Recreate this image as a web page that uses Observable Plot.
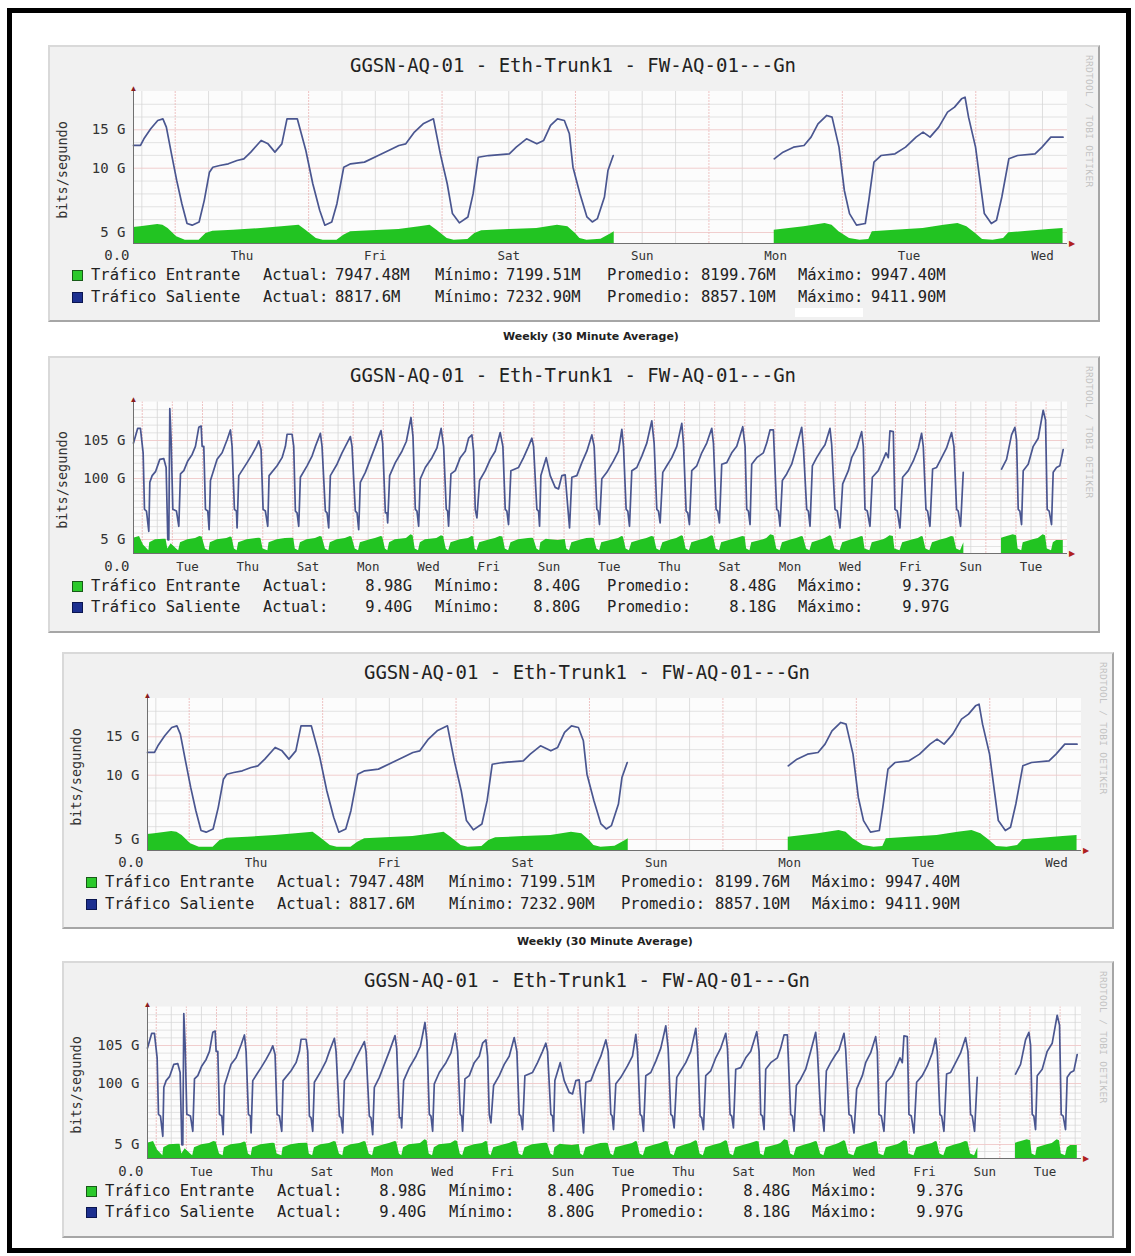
<!DOCTYPE html>
<html>
<head>
<meta charset="utf-8">
<script src="https://cdn.jsdelivr.net/npm/d3@7"></script>
<script src="https://cdn.jsdelivr.net/npm/@observablehq/plot@0.6"></script>
<style>
  body { margin: 0; background: #fff; width: 1135px; height: 1256px; position: relative; overflow: hidden; font-family: "DejaVu Sans Mono", monospace; }
  .outer { position: absolute; left: 7px; top: 8px; width: 1124px; height: 1245px; border: 5px solid #000; box-sizing: border-box; }
  .panel { position: absolute; width: 1052px; height: 277px; }
  .frame { position: absolute; left: 0; top: 0; width: 1052px; height: 277px; box-sizing: border-box; background: #f1f1f1;
           border-top: 2px solid #d9d9d9; border-left: 2px solid #d9d9d9; border-right: 2px solid #a6a6a6; border-bottom: 2px solid #a6a6a6; }
  .panel svg { position: absolute; left: 0; top: 0; }
  .abs { position: absolute; white-space: nowrap; }
</style>
</head>
<body>
<div class="outer"></div>
<script>
// ---------- data ----------
const chartTitle = "GGSN-AQ-01 - Eth-Trunk1 - FW-AQ-01---Gn";
const yAxisTitle = "bits/segundo";
const captionText = "Weekly (30 Minute Average)";
const rrdLabel = "RRDTOOL / TOBI OETIKER";
const seriesNames = ["Tráfico Entrante", "Tráfico Saliente"];
const statNames = ["Actual:", "Mínimo:", "Promedio:", "Máximo:"];

// weekly chart: hours since start (Wed 16:30), values in G (as read against the printed axis)
const weekDayLabels = ["Thu", "Fri", "Sat", "Sun", "Mon", "Tue", "Wed"];
const weekTickValues = [5, 10, 15];
const weekTickLabels = ["5 G", "10 G", "15 G"];
const weekStats = [["7947.48M", "7199.51M", "8199.76M", "9947.40M"],
                   ["8817.6M", "7232.90M", "8857.10M", "9411.90M"]];
const weekOut = [
  [0,12.96],[1.26,12.96],[1.87,13.83],[3.1,15.13],[4.36,16.22],[5.29,16.43],[5.91,15.35],[6.83,11.87],[7.77,9.05],[8.7,7.24],
  [9.63,5.70],[10.55,5.57],[11.8,5.82],[12.73,7.50],[13.66,9.69],[14.27,10.13],[15.51,10.35],[17.06,10.57],[18.62,11.0],[19.85,11.22],
  [21.1,12.09],[22.96,13.61],[24.2,13.17],[25.44,12.09],[26.68,13.17],[27.61,16.43],[29.46,16.43],[31.0,12.3],[32.25,8.79],[33.49,6.73],
  [34.42,5.57],[35.66,5.82],[36.59,7.24],[37.82,10.13],[39.06,10.57],[41.54,10.79],[44.02,11.65],[45.89,12.3],[47.74,12.96],[48.98,13.17],
  [50.53,14.7],[52.1,15.78],[53.95,16.43],[55.19,11.87],[56.43,8.79],[57.37,6.47],[58.61,5.75],[60.15,6.21],[61.09,8.02],[62.01,11.43],
  [63.87,11.65],[67.6,11.87],[68.84,12.74],[70.69,13.83],[72.55,13.17],[73.78,13.61],[75.02,15.57],[76.26,16.43],[77.5,16.22],[78.4,14.48],
  [79.05,10.13],[80.3,8.02],[81.56,6.21],[82.52,5.82],[83.45,6.08],[84.71,7.76],[85.34,9.82],[86.29,11.65],
  [100,null],
  [115.25,11.22],[116.83,12.09],[118.72,12.74],[120.61,12.96],[121.87,14.04],[123.12,15.78],[124.7,16.87],[125.65,16.65],[126.9,12.74],[127.86,8.27],
  [128.79,6.47],[130.05,5.57],[131.63,5.70],[132.26,7.50],[133.19,10.79],[134.45,11.65],[136.98,11.87],[138.87,12.74],[140.76,14.04],[142.02,14.7],
  [143.28,14.04],[144.84,15.35],[146.42,17.3],[147.68,17.96],[148.94,19.04],[149.57,19.26],[150.2,16.65],[151.46,12.74],[152.41,8.53],[153.04,6.47],
  [154.3,5.70],[155.23,5.95],[156.19,7.76],[157.45,11.22],[159.01,11.65],[162.16,11.87],[163.42,12.74],[165.0,14.04],[167.2,14.04]
];
const weekIn = [
  [0,5.39],[1.26,5.44],[4.36,5.62],[5.29,5.57],[6.22,5.31],[7.77,3.03],[9.32,1.52],[11.8,1.52],[13.04,4.55],[14.27,5.10],
  [17.99,5.18],[22.96,5.31],[26.68,5.44],[29.78,5.57],[31.0,5.18],[32.88,2.27],[34.12,1.52],[36.59,1.52],[37.82,3.79],[39.06,5.05],
  [42.79,5.13],[47.74,5.23],[51.47,5.44],[53.34,5.57],[54.57,5.18],[56.43,2.27],[57.67,1.52],[60.15,1.82],[61.39,4.55],[62.63,5.13],
  [67.6,5.23],[72.55,5.31],[76.26,5.57],[78.13,5.44],[79.5,4.5],[80.3,2.27],[81.56,1.52],[84.08,1.97],[85.97,4.55],[86.47,5.05],
  [100,null],
  [115.25,5.18],[120.61,5.44],[124.39,5.70],[125.65,5.57],[126.9,5.05],[128.79,2.27],[130.68,1.52],[132.26,1.82],[132.89,5.05],[136.98,5.18],
  [142.02,5.31],[145.8,5.57],[148.3,5.70],[149.9,5.44],[151.46,4.55],[152.72,1.82],[154.6,1.52],[156.5,2.27],[157.45,4.85],[160.9,5.10],
  [164.7,5.23],[167.2,5.31]
];

// monthly chart: days since start, values in G (as read against the printed axis)
const monthDayLabels = ["Tue","Thu","Sat","Mon","Wed","Fri","Sun","Tue","Thu","Sat","Mon","Wed","Fri","Sun","Tue"];
const monthTickValues = [5, 100, 105];
const monthTickLabels = ["5 G", "100 G", "105 G"];
const monthStats = [["8.98G", "8.40G", "8.48G", "9.37G"],
                    ["9.40G", "8.80G", "8.18G", "9.97G"]];
const monthOut = [
  [0,104.66],[0.14,106.58],[0.23,106.58],[0.32,103.38],[0.365,52.0],[0.431,49.3],[0.508,17.7],
  [0.542,94.1],[0.619,100.38],[0.73,100.9],[0.873,102.52],[1.006,102.61],[1.083,101.45],[1.139,4.9],[1.172,4.9],[1.205,109.14],[1.249,105.09],[1.305,52.0],[1.426,49.3],[1.504,25.6],
  [1.559,100.6],[1.67,101.03],[1.802,102.31],[1.946,103.17],[2.056,104.23],[2.167,106.71],[2.245,106.88],[2.278,104.23],[2.333,104.23],[2.388,52.0],[2.465,49.3],[2.51,20.3],
  [2.554,96.83],[2.775,102.52],[2.941,103.38],[3.107,105.09],[3.217,106.37],[3.272,104.23],[3.35,52.0],[3.416,49.3],[3.438,22.9],
  [3.494,100.38],[3.77,102.09],[3.936,103.17],[4.08,104.23],[4.157,104.96],[4.234,103.81],[4.301,52.0],[4.378,49.3],[4.456,25.6],
  [4.5,100.38],[4.765,101.67],[4.931,102.74],[5.042,104.23],[5.097,105.81],[5.263,105.81],[5.318,104.23],[5.373,49.3],[5.429,46.6],[5.484,25.6],
  [5.539,100.17],[5.76,101.67],[5.926,102.95],[6.037,104.23],[6.203,105.94],[6.258,104.23],[6.368,49.3],[6.424,46.6],[6.479,22.9],
  [6.534,100.38],[6.755,101.88],[6.921,103.38],[7.032,104.23],[7.198,105.51],[7.253,104.23],[7.363,49.3],[7.419,46.6],[7.474,20.3],
  [7.529,94.1],[7.695,100.81],[7.861,102.52],[8.027,104.23],[8.215,106.28],[8.27,104.66],[8.359,46.6],[8.414,46.6],[8.436,30.8],
  [8.502,100.38],[8.69,102.09],[8.911,103.59],[9.055,104.87],[9.21,107.99],[9.276,105.51],[9.354,52.0],[9.409,49.3],[9.464,25.6],
  [9.519,99.5],[9.685,101.45],[9.906,102.74],[10.072,104.02],[10.21,106.58],[10.293,104.23],[10.381,52.0],[10.425,49.3],[10.458,25.6],
  [10.536,100.6],[10.68,101.03],[10.845,102.74],[11.011,103.59],[11.122,105.3],[11.232,105.73],[11.288,103.59],[11.343,52.0],[11.398,38.7],
  [11.487,96.83],[11.675,101.03],[11.84,102.52],[12.006,103.59],[12.172,106.03],[12.26,104.23],[12.338,52.0],[12.393,49.3],[12.448,28.3],
  [12.526,101.03],[12.78,101.45],[12.946,102.74],[13.112,104.23],[13.222,105.3],[13.278,104.23],[13.388,52.0],[13.444,49.3],[13.477,25.6],
  [13.521,100.38],[13.698,102.74],[13.831,100.38],[13.996,86.2],[14.107,83.7],[14.217,100.38],[14.328,100.47],[14.383,73.1],[14.472,22.9],
  [14.549,100.17],[14.715,100.38],[14.881,102.09],[15.047,103.59],[15.213,105.73],[15.29,104.23],[15.378,52.0],[15.423,49.3],[15.467,28.3],
  [15.544,99.5],[15.71,100.81],[15.931,102.31],[16.097,103.59],[16.208,106.45],[16.263,104.23],[16.351,52.0],[16.407,49.3],[16.462,25.6],
  [16.539,101.03],[16.705,101.45],[16.871,102.95],[17.037,104.66],[17.203,107.56],[17.28,104.66],[17.369,52.0],[17.424,49.3],[17.479,30.8],
  [17.567,100.81],[17.7,101.67],[17.866,102.74],[18.032,104.23],[18.198,107.22],[18.253,104.66],[18.342,49.3],[18.397,46.6],[18.452,28.3],
  [18.529,101.03],[18.695,101.67],[18.861,103.38],[19.027,104.66],[19.193,106.58],[19.248,104.66],[19.337,52.0],[19.392,49.3],[19.447,30.8],
  [19.524,101.88],[19.69,102.09],[19.856,103.38],[20.022,104.23],[20.221,106.79],[20.298,104.23],[20.353,52.0],[20.409,49.3],[20.464,28.3],
  [20.519,101.88],[20.685,102.74],[20.906,103.38],[21.017,104.66],[21.127,106.37],[21.238,106.37],[21.26,104.23],[21.348,52.0],[21.404,49.3],[21.459,25.6],
  [21.536,96.83],[21.68,100.6],[21.846,101.88],[22.012,104.23],[22.178,106.71],[22.233,104.23],[22.344,52.0],[22.399,49.3],[22.454,25.6],
  [22.532,101.67],[22.675,102.74],[22.841,103.81],[22.952,104.45],[23.117,106.58],[23.173,104.45],[23.283,52.0],[23.361,49.3],[23.449,22.9],
  [23.538,91.6],[23.726,101.03],[23.836,102.74],[24.002,104.02],[24.168,106.15],[24.223,104.23],[24.278,52.0],[24.356,49.3],[24.444,25.6],
  [24.522,100.17],[24.721,101.03],[24.886,102.52],[24.975,103.38],[25.052,102.74],[25.107,106.24],[25.218,106.15],[25.273,52.0],[25.351,49.3],[25.439,22.9],
  [25.528,100.17],[25.716,101.03],[25.882,102.31],[26.047,104.02],[26.158,105.94],[26.213,104.23],[26.302,52.0],[26.357,49.3],[26.434,25.6],
  [26.523,101.24],[26.656,101.45],[26.822,102.74],[26.987,104.02],[27.153,106.03],[27.231,104.23],[27.319,52.0],[27.374,49.3],[27.451,25.6],[27.54,100.81],
  [27.6,null],
  [28.811,101.24],[28.977,102.52],[29.143,105.73],[29.254,106.71],[29.309,105.09],[29.364,52.0],[29.419,49.3],[29.475,28.3],
  [29.53,101.03],[29.696,101.88],[29.862,104.23],[30.028,105.3],[30.193,108.93],[30.271,107.65],[30.326,52.0],[30.392,49.3],[30.47,28.3],
  [30.525,100.81],[30.636,101.45],[30.746,101.67],[30.857,103.81]
];
const monthIn = [
  [0,7.1],[0.2,9.75],[0.33,3.0],[0.51,1.0],
  [0.54,3.8],[0.73,4.9],[1.0,5.5],[1.08,5.2],[1.14,1.6],[1.25,3.5],[1.43,1.6],[1.5,1.0],
  [1.56,3.8],[1.8,4.9],[2.06,6.5],[2.2,9.75],[2.28,8.7],[2.39,1.6],[2.51,1.0],
  [2.55,3.8],[2.78,4.9],[3.1,6.5],[3.22,8.7],[3.27,8.0],[3.35,1.6],[3.44,1.0],
  [3.49,3.8],[3.77,4.9],[4.08,6.5],[4.16,7.1],[4.23,6.5],[4.3,1.6],[4.46,1.0],
  [4.5,3.8],[4.77,4.9],[5.04,6.5],[5.26,7.1],[5.32,6.5],[5.37,1.6],[5.48,1.0],
  [5.54,3.8],[5.76,4.9],[6.04,6.5],[6.2,9.75],[6.26,8.7],[6.37,1.6],[6.48,1.0],
  [6.53,3.8],[6.76,4.9],[7.03,6.5],[7.2,9.75],[7.25,8.7],[7.36,1.6],[7.47,1.0],
  [7.53,3.8],[7.86,4.9],[8.03,6.5],[8.22,9.75],[8.27,8.7],[8.36,1.6],[8.44,1.0],
  [8.5,3.8],[8.69,4.9],[9.06,6.5],[9.21,12.4],[9.28,10.8],[9.35,1.6],[9.46,1.0],
  [9.52,3.8],[9.69,4.9],[10.07,6.5],[10.22,10.8],[10.29,9.75],[10.38,1.6],[10.46,1.0],
  [10.54,3.8],[10.85,4.9],[11.12,6.5],[11.23,9.75],[11.29,8.7],[11.34,1.6],[11.4,1.0],
  [11.49,3.8],[11.84,4.9],[12.01,6.5],[12.17,9.75],[12.26,8.7],[12.34,1.6],[12.45,1.0],
  [12.53,3.8],[12.78,4.9],[13.11,6.5],[13.22,7.1],[13.28,6.5],[13.39,1.6],[13.48,1.0],
  [13.52,3.8],[13.7,5.5],[13.83,4.9],[14.1,4.6],[14.33,5.0],[14.38,1.6],[14.47,1.0],
  [14.55,3.8],[14.88,4.9],[15.05,6.5],[15.21,7.1],[15.29,6.5],[15.38,1.6],[15.47,1.0],
  [15.54,3.8],[15.93,4.9],[16.1,6.5],[16.21,9.75],[16.26,8.7],[16.35,1.6],[16.46,1.0],
  [16.54,3.8],[16.87,4.9],[17.04,6.5],[17.2,9.75],[17.28,8.7],[17.37,1.6],[17.48,1.0],
  [17.57,3.8],[17.87,4.9],[18.03,6.5],[18.2,10.8],[18.25,9.75],[18.34,1.6],[18.45,1.0],
  [18.53,3.8],[18.86,4.9],[19.03,6.5],[19.19,10.8],[19.25,9.75],[19.34,1.6],[19.45,1.0],
  [19.52,3.8],[19.86,4.9],[20.02,6.5],[20.22,9.75],[20.3,8.7],[20.35,1.6],[20.46,1.0],
  [20.52,3.8],[20.91,4.9],[21.02,6.5],[21.15,12.4],[21.26,10.8],[21.35,1.6],[21.46,1.0],
  [21.54,3.8],[21.85,4.9],[22.01,6.5],[22.18,9.75],[22.23,8.7],[22.34,1.6],[22.45,1.0],
  [22.53,3.8],[22.84,4.9],[22.95,6.5],[23.12,10.8],[23.17,9.75],[23.28,1.6],[23.45,1.0],
  [23.54,3.8],[23.84,4.9],[24.0,6.5],[24.17,9.75],[24.22,8.7],[24.28,1.6],[24.44,1.0],
  [24.52,3.8],[24.89,4.9],[24.98,6.5],[25.11,10.8],[25.22,9.75],[25.27,1.6],[25.44,1.0],
  [25.53,3.8],[25.88,4.9],[26.05,6.5],[26.16,9.75],[26.21,8.7],[26.3,1.6],[26.43,1.0],
  [26.52,3.8],[26.82,4.9],[26.99,6.5],[27.15,9.75],[27.23,8.7],[27.32,1.6],[27.45,1.0],[27.56,3.8],
  [27.6,null],
  [28.81,7.1],[29.0,9.75],[29.2,12.4],[29.31,10.8],[29.36,1.6],[29.48,1.0],
  [29.53,3.8],[29.86,4.9],[30.03,6.5],[30.19,12.4],[30.27,10.8],[30.33,1.6],[30.47,1.0],
  [30.53,3.8],[30.64,4.67],[30.86,4.67]
];

// ---------- drawing ----------
const MONO = "DejaVu Sans Mono, monospace";
const GREEN = "#22c422", BLUE = "#4a5690";

function addDiv(host, txt, css) {
  const d = document.createElement("div");
  d.className = "abs";
  d.textContent = txt;
  Object.assign(d.style, css);
  host.appendChild(d);
  return d;
}

function drawPanel(left, top, cfg) {
  const host = document.createElement("div");
  host.className = "panel";
  host.style.left = left + "px";
  host.style.top = top + "px";
  document.body.appendChild(host);
  const frame = document.createElement("div");
  frame.className = "frame";
  host.appendChild(frame);

  const toRows = a => a.map(([x, v]) => ({x, v: v == null ? NaN : v}));
  const outRows = toRows(cfg.out), inRows = toRows(cfg.inn);
  const yTop = cfg.yDomain[cfg.yDomain.length - 1];
  const xMax = cfg.xMax;
  const tickRows = cfg.tickValues.map((v, i) => ({v, t: cfg.tickLabels[i]}));
  const dayRows = cfg.dayLabels.map((t, i) => ({t, x: cfg.dayStart + cfg.dayStep * i}));

  const svg = Plot.plot({
    width: 1052, height: 277, margin: 0,
    style: {background: "transparent", overflow: "visible"},
    x: {type: "linear", domain: [0, xMax], range: [85, 1019], axis: null},
    y: {type: "linear", domain: cfg.yDomain, range: cfg.yRange, axis: null},
    marks: [
      Plot.rect([0], {x1: () => 0, x2: () => xMax, y1: () => 0, y2: () => yTop, fill: "#fcfcfc"}),
      Plot.ruleY(cfg.gridMinorY, {x1: () => 0, x2: () => xMax, stroke: "#dcdcdc", strokeWidth: 0.8}),
      Plot.ruleX(cfg.gridMinorX, {y1: () => 0, y2: () => yTop, stroke: "#d6d6d6", strokeWidth: 0.8}),
      Plot.ruleY(cfg.tickValues, {x1: () => 0, x2: () => xMax, stroke: "#efc8c8", strokeWidth: 0.9}),
      Plot.ruleX(cfg.gridMajorX, {y1: () => 0, y2: () => yTop, stroke: "#ecbcbc", strokeWidth: 0.9, strokeDasharray: "2,1"}),
      Plot.areaY(inRows, {x: "x", y1: () => 0, y2: "v", fill: GREEN}),
      Plot.line(outRows, {x: "x", y: "v", stroke: BLUE, strokeWidth: 1.7}),
      Plot.ruleX([0], {y1: () => 0, y2: () => yTop, stroke: "#707070"}),
      Plot.ruleY([0], {x1: () => 0, x2: () => xMax, stroke: "#707070"}),
      Plot.text(["▲"], {x: () => 0, y: () => yTop, text: d => d, dy: -3, fill: "#8b1c1c", fontSize: 8}),
      Plot.text(["▶"], {x: () => xMax, y: () => 0, text: d => d, dx: 4, fill: "#b02020", fontSize: 8}),
      Plot.text(tickRows, {x: () => 0, y: "v", text: "t", dx: -8, textAnchor: "end", fontFamily: MONO, fontSize: 14, fill: "#333"}),
      Plot.text(["0.0"], {x: () => 0, y: () => 0, text: d => d, dx: -4, dy: cfg.labelDy, textAnchor: "end", fontFamily: MONO, fontSize: 14, fill: "#333"}),
      Plot.text(dayRows, {x: "x", y: () => 0, text: "t", dy: cfg.labelDy, fontFamily: MONO, fontSize: 12.5, fill: "#333"})
    ]
  });
  host.appendChild(svg);

  addDiv(host, chartTitle, {left: "525px", top: cfg.titleY + "px", transform: "translate(-50%,-50%)",
    fontFamily: MONO, fontSize: "19px", color: "#222"});
  addDiv(host, yAxisTitle, {left: "14px", top: cfg.yTitleY + "px", transform: "translate(-50%,-50%) rotate(-90deg)",
    fontFamily: MONO, fontSize: "13.5px", color: "#333"});
  addDiv(host, rrdLabel, {left: "1036px", top: "10px", writingMode: "vertical-rl",
    fontFamily: MONO, fontSize: "9.5px", color: "#c2c2c2", letterSpacing: "0.3px"});

  const statX = [215, 387, 559, 750];
  [0, 1].forEach(r => {
    const cy = cfg.legendY[r];
    const sq = document.createElement("div");
    sq.className = "abs";
    Object.assign(sq.style, {left: "24px", top: (cy - 5.5) + "px", width: "9px", height: "9px",
      background: r === 0 ? "#2bc92b" : "#1c2f8f", border: "1px solid " + (r === 0 ? "#185a18" : "#0a1550")});
    host.appendChild(sq);
    const font = {fontFamily: MONO, fontSize: "15.5px", color: "#222", transform: "translateY(-50%)", top: cy + "px"};
    addDiv(host, seriesNames[r], {...font, left: "43px"});
    statNames.forEach((s, j) => {
      addDiv(host, s, {...font, left: statX[j] + "px"});
      const val = cfg.stats[r][j];
      if (cfg.valueAlign === "left") addDiv(host, val, {...font, left: cfg.valueX[j] + "px"});
      else addDiv(host, val, {...font, left: cfg.valueX[j] + "px", transform: "translate(-100%,-50%)"});
    });
  });
  return host;
}

const weekMinorX = d3.range(1.5, 168, 6).filter(h => (h - 7.5) % 24 !== 0);
const weekMajorX = d3.range(7.5, 168, 24);
const weekCfg = {
  out: weekOut, inn: weekIn, xMax: 168,
  yDomain: [0, 5, 10, 15, 20], yRange: [198, 187, 122.7, 84.3, 46],
  tickValues: weekTickValues, tickLabels: weekTickLabels,
  dayLabels: weekDayLabels, dayStart: 19.5, dayStep: 24,
  gridMinorX: weekMinorX, gridMajorX: weekMajorX,
  gridMinorY: [6, 7, 8, 9, 11.67, 13.33, 16.67, 18.33],
  labelDy: 12, titleY: 20, yTitleY: 125, legendY: [230, 252],
  stats: weekStats, valueAlign: "left", valueX: [287, 458, 653, 823]
};
const monthMinorX = d3.range(0.79, 31, 1);
const monthMajorX = d3.range(0.29, 31, 1);
const monthCfg = {
  out: monthOut, inn: monthIn, xMax: 31,
  yDomain: [0, 5, 100, 105, 110], yRange: [197, 183, 122, 84, 45.5],
  tickValues: monthTickValues, tickLabels: monthTickLabels,
  dayLabels: monthDayLabels, dayStart: 1.79, dayStep: 2,
  gridMinorX: monthMinorX, gridMajorX: monthMajorX,
  gridMinorY: [2.5, ...d3.range(15, 100, 10), 101, 102, 103, 104, 106, 107, 108, 109],
  labelDy: 13, titleY: 19, yTitleY: 124, legendY: [230, 251],
  stats: monthStats, valueAlign: "right", valueX: [364, 532, 728, 901]
};

const p1 = drawPanel(48, 45, weekCfg);
drawPanel(48, 356, monthCfg);
drawPanel(62, 652, weekCfg);
drawPanel(62, 961, monthCfg);

// white artifact patch under first panel legend
const patch = document.createElement("div");
patch.className = "abs";
Object.assign(patch.style, {left: "747px", top: "263px", width: "68px", height: "9px", background: "#fff"});
p1.appendChild(patch);

// captions between the pairs
[[591, 336], [605, 941]].forEach(([x, y]) => {
  addDiv(document.body, captionText, {left: x + "px", top: y + "px", transform: "translate(-50%,-50%)",
    fontFamily: "DejaVu Sans, sans-serif", fontWeight: "bold", fontSize: "11px", color: "#222"});
});
</script>
</body>
</html>
